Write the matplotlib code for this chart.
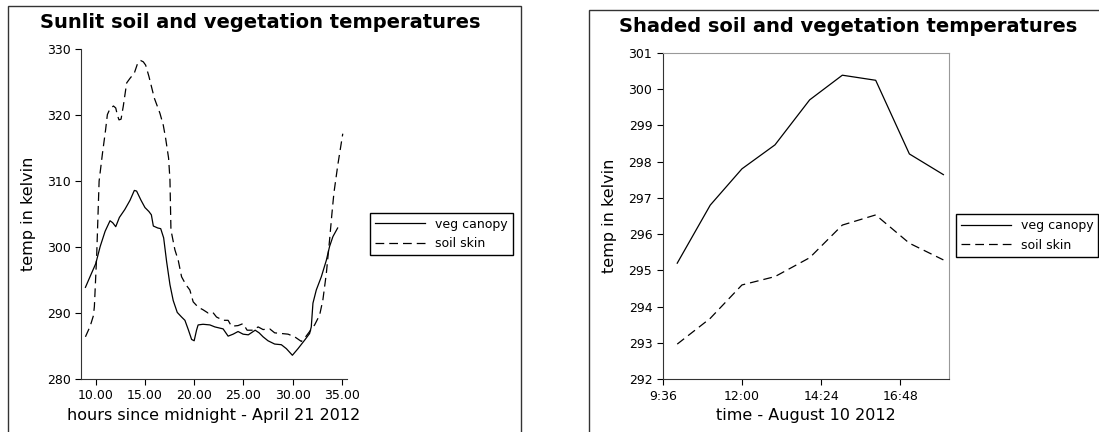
import numpy as np
import matplotlib
matplotlib.use('Agg')
import matplotlib.pyplot as plt
from matplotlib.patches import Rectangle
from matplotlib.ticker import FuncFormatter

# ---- 左: sunlit (hours since midnight) ----
sun_veg_t = [8.95, 9.5, 10.0, 10.45, 10.95, 11.45, 11.72, 12.03, 12.4, 12.95,
             13.48, 13.92, 14.15, 14.6, 15.0, 15.4, 15.65, 15.85, 16.3, 16.6,
             16.9, 17.2, 17.54, 17.87, 18.28, 18.72, 19.06, 19.4, 19.74, 20.0,
             20.24, 20.4, 20.9, 21.6, 22.1, 22.94, 23.45, 23.96, 24.46, 24.97,
             25.5, 25.9, 26.2, 26.6, 27.0, 27.5, 28.18, 28.86, 29.37, 29.98,
             30.55, 31.23, 31.73, 31.9, 32.07, 32.41, 32.92, 33.43, 33.76, 34.1,
             34.58]
sun_veg = [293.9, 295.8, 297.5, 300.1, 302.4, 304.0, 303.7, 303.1, 304.5, 305.7,
           307.1, 308.6, 308.5, 307.1, 306.0, 305.4, 304.9, 303.2, 302.9, 302.8,
           301.4, 297.8, 294.3, 291.9, 290.1, 289.4, 288.9, 287.5, 286.0, 285.8,
           287.4, 288.2, 288.3, 288.2, 287.9, 287.6, 286.5, 286.8, 287.2, 286.8,
           286.7, 287.1, 287.4, 287.0, 286.4, 285.8, 285.3, 285.2, 284.6, 283.6,
           284.6, 285.9, 286.9, 287.9, 291.5, 293.5, 295.5, 298.0, 300.1, 301.6,
           302.9]

sun_soil_t = [8.95, 9.43, 9.76, 9.86, 10.1, 10.34, 10.68, 11.0, 11.18, 11.45,
              11.8, 12.03, 12.2, 12.36, 12.57, 12.8, 13.14, 13.48, 13.92, 14.26,
              14.56, 14.83, 15.07, 15.4, 15.95, 16.52, 16.86, 17.1, 17.4, 17.54,
              17.64, 18.04, 18.38, 18.72, 19.16, 19.56, 19.9, 20.4, 20.9, 21.42,
              21.9, 22.27, 22.94, 23.45, 23.79, 24.46, 24.97, 25.38, 25.98, 26.5,
              27.0, 27.68, 28.18, 28.86, 29.54, 30.21, 30.89, 31.23, 31.73, 32.24,
              32.75, 33.08, 33.43, 33.76, 34.0, 34.2, 34.6, 35.1]
sun_soil = [286.4, 288.0, 289.6, 291.0, 299.0, 310.0, 314.2, 317.8, 320.1, 321.0,
            321.4, 321.1, 320.0, 319.3, 319.4, 321.4, 324.9, 325.6, 326.4, 327.9,
            328.3, 328.1, 327.6, 325.9, 322.6, 320.3, 318.5, 316.5, 313.5, 310.2,
            302.6, 299.6, 298.0, 295.5, 294.3, 293.5, 291.7, 290.9, 290.5, 290.0,
            290.1, 289.4, 288.9, 288.9, 288.0, 288.1, 288.4, 287.4, 287.4, 287.9,
            287.5, 287.6, 287.0, 286.9, 286.8, 286.4, 285.7, 286.2, 287.2, 288.2,
            289.7, 292.0, 296.0, 301.1, 305.1, 308.2, 312.5, 317.2]

# ---- 右: shaded (time of day, hours) ----
shade_t = [10.04, 11.04, 12.0, 13.0, 14.05, 15.04, 16.05, 17.07, 18.1]
shade_veg = [295.2, 296.8, 297.8, 298.46, 299.7, 300.38, 300.24, 298.21, 297.64]
shade_soil = [292.97, 293.68, 294.6, 294.83, 295.35, 296.25, 296.53, 295.75, 295.29]

W, H = 1099, 432
fig = plt.figure(figsize=(W / 100, H / 100), dpi=100)

dash = (0, (7, 4))
lw = 0.9

# パネルの枠 (右側と下側は画像外まで伸びている)
fig.patches.append(Rectangle((8 / W, -0.2), (521 - 8) / W, 1.2 - 5.7 / H,
                             transform=fig.transFigure, fill=False,
                             edgecolor='#333333', lw=1.0))
fig.patches.append(Rectangle((589 / W, -0.2), 0.6, 1.2 - 10 / H,
                             transform=fig.transFigure, fill=False,
                             edgecolor='#333333', lw=1.0))

# ---- 左 ----
ax1 = fig.add_axes([81 / W, 1 - 379 / H, (346.7 - 81) / W, (379 - 49.3) / H])
ax1.plot(sun_veg_t, sun_veg, color='black', lw=lw, label='veg canopy')
ax1.plot(sun_soil_t, sun_soil, color='black', lw=lw, ls=dash, label='soil skin')
ax1.set_xlim(8.5, 35.5)
ax1.set_ylim(280, 330)
ax1.set_xticks([10, 15, 20, 25, 30, 35])
ax1.xaxis.set_major_formatter(FuncFormatter(lambda v, p: '%.2f' % v))
ax1.set_yticks([280, 290, 300, 310, 320, 330])
ax1.spines['top'].set_visible(False)
ax1.spines['right'].set_visible(False)
ax1.set_xlabel('hours since midnight - April 21 2012', fontsize=11.5)
ax1.set_ylabel('temp in kelvin', fontsize=11.5, labelpad=8)
ax1.legend(loc='upper left', bbox_to_anchor=(370 / W, 1 - 212.7 / H),
           bbox_transform=fig.transFigure, fontsize=9, handlelength=4,
           fancybox=False, framealpha=1, edgecolor='black', borderaxespad=0)
fig.text(260 / W, 1 - 23 / H, 'Sunlit soil and vegetation temperatures',
         ha='center', va='center', fontsize=14, fontweight='bold')

# ---- 右 ----
def hm(v, p):
    h = int(v)
    m = int(round((v - h) * 60))
    return '%d:%02d' % (h, m)

ax2 = fig.add_axes([662.7 / W, 1 - 379.3 / H, (949 - 662.7) / W, (379.3 - 52.7) / H])
ax2.plot(shade_t, shade_veg, color='black', lw=lw, label='veg canopy')
ax2.plot(shade_t, shade_soil, color='black', lw=lw, ls=dash, label='soil skin')
ax2.set_xlim(9.6, 18.27)
ax2.set_ylim(292, 301)
ax2.set_xticks([9.6, 12.0, 14.4, 16.8])
ax2.xaxis.set_major_formatter(FuncFormatter(hm))
ax2.set_yticks(range(292, 302))
ax2.spines['top'].set_color('#999999')
ax2.spines['right'].set_color('#999999')
ax2.set_xlabel('time - August 10 2012', fontsize=11.5)
ax2.set_ylabel('temp in kelvin', fontsize=11.5, labelpad=8)
ax2.legend(loc='upper left', bbox_to_anchor=(955.6 / W, 1 - 214.3 / H),
           bbox_transform=fig.transFigure, fontsize=9, handlelength=4,
           fancybox=False, framealpha=1, edgecolor='black', borderaxespad=0)
fig.text(848 / W, 1 - 26 / H, 'Shaded soil and vegetation temperatures',
         ha='center', va='center', fontsize=14, fontweight='bold')

for ax in (ax1, ax2):
    ax.tick_params(direction='out', length=4, labelsize=9, width=0.8)
    ax.spines['left'].set_color('#333333')
    ax.spines['bottom'].set_color('#333333')

plt.savefig('out.png', dpi=100)
